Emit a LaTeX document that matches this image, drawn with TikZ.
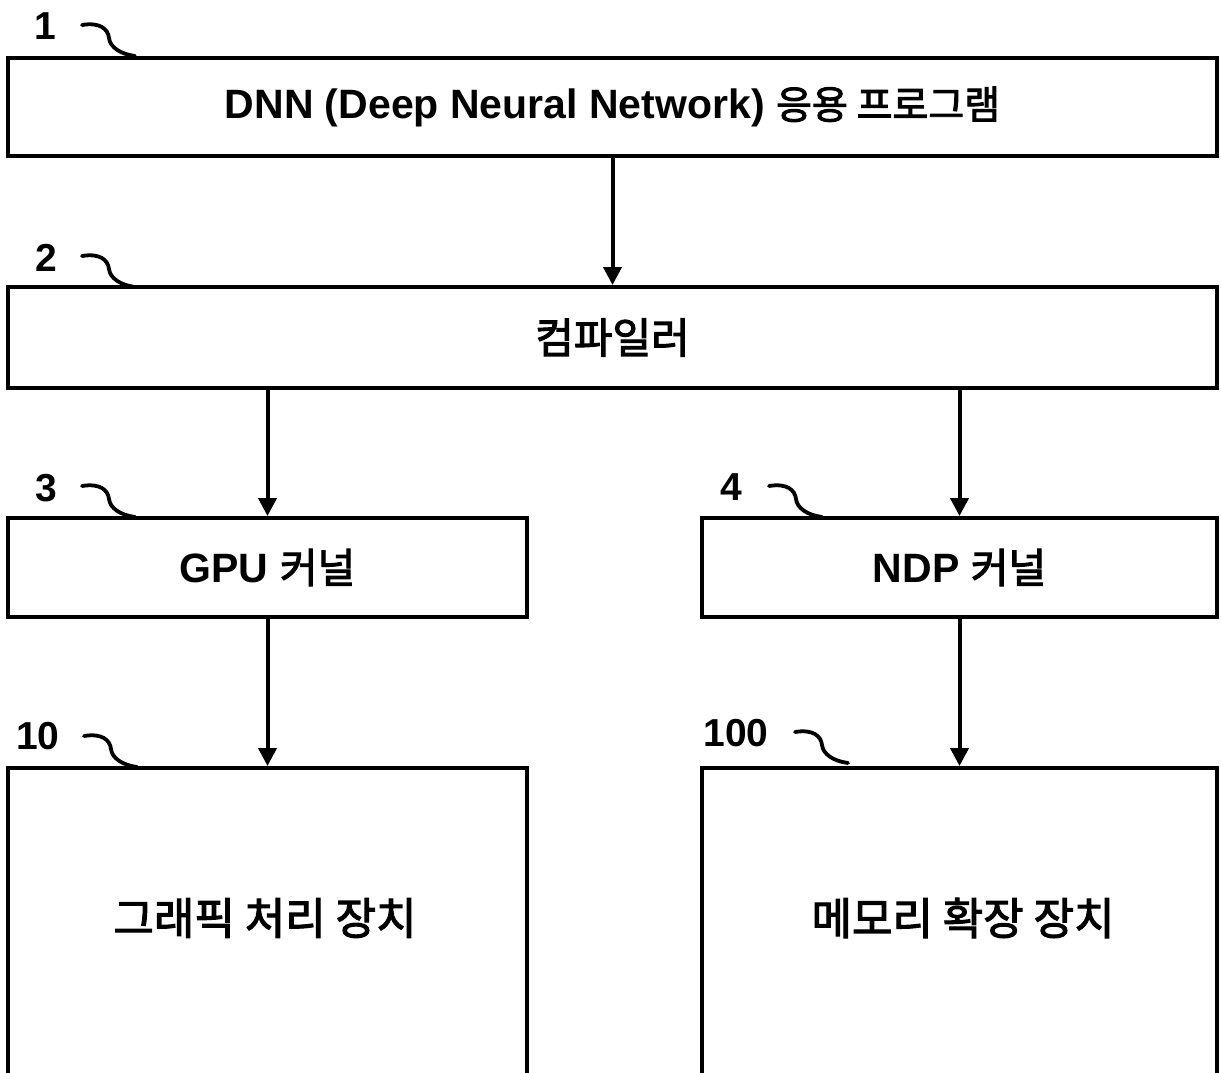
\documentclass[tikz,border=0pt]{standalone}
\usepackage{fontspec}
\setmainfont{Liberation Sans}
\newfontfamily\kr{Noto Sans CJK KR}[FakeBold=2.5]
\newcommand{\krt}[1]{{\kr\mdseries #1}}
\usetikzlibrary{arrows.meta}
\tikzset{
  box/.style={draw, line width=4pt, inner sep=0pt, font=\fontsize{41}{46}\selectfont\bfseries},
  conn/.style={line width=4pt, -{Triangle[length=18pt,width=18pt]}},
  refnum/.style={font=\fontsize{39}{44}\selectfont\bfseries, inner sep=0pt},
  squig/.style={line width=3.8pt, line cap=round}
}
\newcommand{\squiggle}[1]{\draw[squig, shift={(#1)}] (0,0) .. controls (18,-3) and (26,4) .. (27,13) .. controls (28,22) and (38,29) .. (53,31);}
\begin{document}
\begin{tikzpicture}[x=1pt,y=-1pt]
\clip (0,0) rectangle (1221,1072);
\fill[white] (0,0) rectangle (1221,1072);
% boxes
\node[box, minimum width=1209pt, minimum height=98pt] (b1) at (612.5,107) {DNN (Deep Neural Network) {\fontsize{39}{44}\selectfont\krt{응용 프로그램}}};
\node[box, minimum width=1209pt, minimum height=101pt] (b2) at (612.5,337.5) {\fontsize{42}{46}\selectfont\krt{컴파일러}};
\node[box, minimum width=519pt, minimum height=99pt] (b3) at (267.5,567.5) {GPU \krt{커널}};
\node[box, minimum width=515pt, minimum height=99pt] (b4) at (959.5,567.5) {NDP \krt{커널}};
\node[box, minimum width=519pt, minimum height=332pt] (b10) at (267.5,934) {};
\node[box, minimum width=515pt, minimum height=332pt] (b100) at (959.5,934) {};
\node[font=\fontsize{44}{48}\selectfont] (t10) at (265,918) {\krt{그래픽 처리 장치}};
\node[font=\fontsize{44}{48}\selectfont] (t100) at (963,918) {\krt{메모리 확장 장치}};
% connectors
\draw[conn] (b1.south) -- (b2.north);
\draw[conn] (b3.north |- b2.south) -- (b3.north);
\draw[conn] (b4.north |- b2.south) -- (b4.north);
\draw[conn] (b3.south) -- (b10.north);
\draw[conn] (b4.south) -- (b100.north);
% reference numbers
\node[refnum] (n1) at (45,26) {1};
\node[refnum] (n2) at (46,258) {2};
\node[refnum] (n3) at (46,488) {3};
\node[refnum] (n4) at (731,487) {4};
\node[refnum] (n10) at (38,736) {10};
\node[refnum] (n100) at (736,733) {100};
\coordinate (s1) at (82,25);
\coordinate (s2) at (82,256);
\coordinate (s3) at (82,486);
\coordinate (s4) at (769,486);
\coordinate (s10) at (84,736);
\coordinate (s100) at (795,732);
\squiggle{s1}
\squiggle{s2}
\squiggle{s3}
\squiggle{s4}
\squiggle{s10}
\squiggle{s100}
\end{tikzpicture}
\end{document}
